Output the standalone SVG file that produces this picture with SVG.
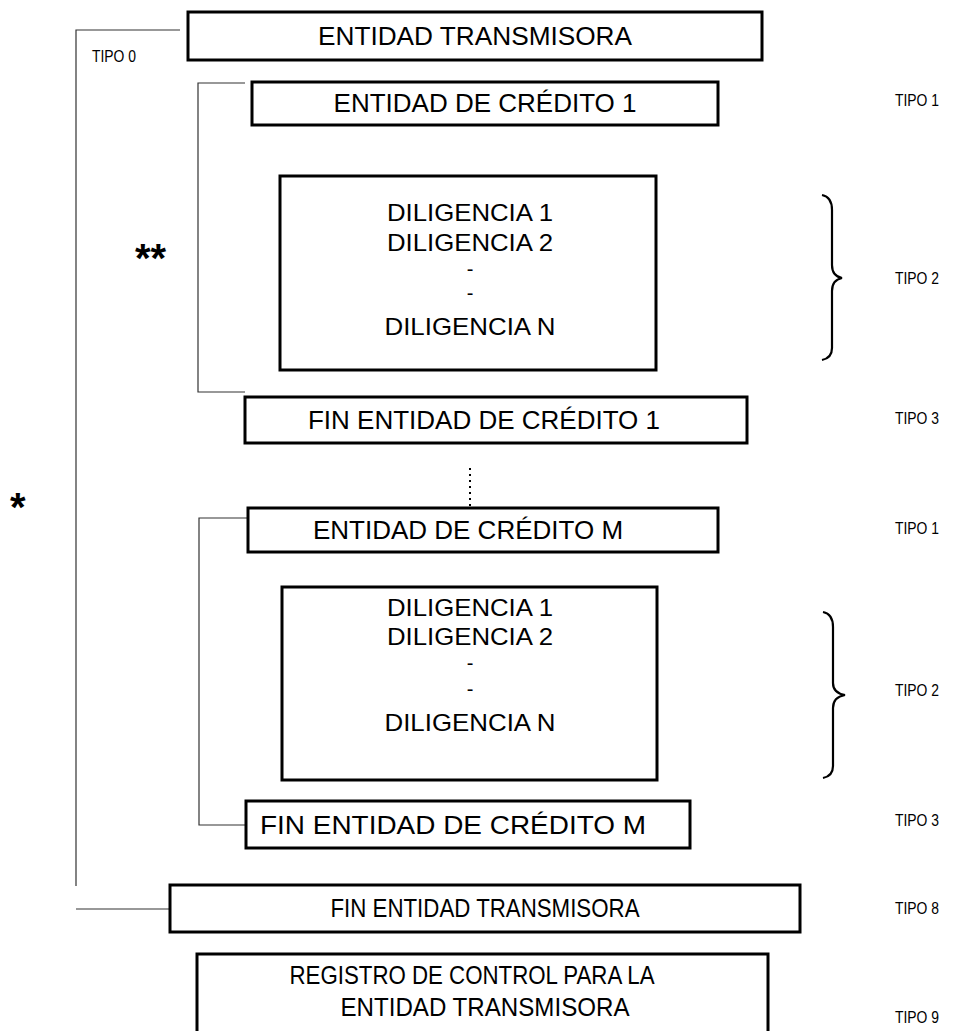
<svg xmlns="http://www.w3.org/2000/svg" width="969" height="1031" viewBox="0 0 969 1031">
<style>
.box{fill:#fff;stroke:#000;stroke-width:3}
.t{font-family:"Liberation Sans",Arial,sans-serif;font-size:26px;fill:#000;text-anchor:middle}
.d{font-family:"Liberation Sans",Arial,sans-serif;font-size:24px;fill:#000;text-anchor:middle}
.dash{font-family:"Liberation Sans",Arial,sans-serif;font-size:20px;fill:#000;text-anchor:middle}
.tipo{font-family:"Liberation Sans",Arial,sans-serif;font-size:16px;fill:#000}
.ln{fill:none;stroke:#333;stroke-width:1.2}
.br{fill:none;stroke:#000;stroke-width:2.2}
.star{font-family:"Liberation Sans",Arial,sans-serif;font-size:40px;font-weight:bold;fill:#000}
</style>
<rect width="969" height="1031" fill="#fff"/>
<g id="connectors">
<polyline class="ln" points="180,30 76,30 76,886"/>
<line class="ln" x1="76" y1="909" x2="170" y2="909"/>
<polyline class="ln" points="245,83 198,83 198,392 245,392"/>
<polyline class="ln" points="248,518 199,518 199,825 246,825"/>
<line x1="470" y1="468" x2="470" y2="506" stroke="#000" stroke-width="2" stroke-dasharray="2,4"/>
</g>
<g id="n_transmisora"><rect class="box" x="188" y="12" width="574" height="48"/><text class="t" x="475" y="45" textLength="314" lengthAdjust="spacingAndGlyphs">ENTIDAD TRANSMISORA</text></g>
<g id="tipo0"><text class="tipo" x="92" y="62" textLength="44" lengthAdjust="spacingAndGlyphs">TIPO 0</text></g>
<g id="n_credito1"><rect class="box" x="252" y="82" width="466" height="43"/><text class="t" x="485" y="112">ENTIDAD DE CRÉDITO 1</text></g>
<g id="n_dil1"><rect class="box" x="280" y="176" width="376" height="194"/>
<text class="d" x="470" y="221" textLength="166" lengthAdjust="spacingAndGlyphs">DILIGENCIA 1</text><text class="d" x="470" y="251" textLength="166" lengthAdjust="spacingAndGlyphs">DILIGENCIA 2</text><text class="dash" x="470" y="276">-</text><text class="dash" x="470" y="300">-</text><text class="d" x="470" y="335" textLength="171" lengthAdjust="spacingAndGlyphs">DILIGENCIA N</text></g>
<g id="n_fin1"><rect class="box" x="245" y="397" width="502" height="46"/><text class="t" x="484" y="429">FIN ENTIDAD DE CRÉDITO 1</text></g>
<g id="n_creditoM"><rect class="box" x="248" y="508" width="470" height="44"/><text class="t" x="468" y="539">ENTIDAD DE CRÉDITO M</text></g>
<g id="n_dil2"><rect class="box" x="282" y="587" width="375" height="193"/>
<text class="d" x="470" y="616" textLength="166" lengthAdjust="spacingAndGlyphs">DILIGENCIA 1</text><text class="d" x="470" y="645" textLength="166" lengthAdjust="spacingAndGlyphs">DILIGENCIA 2</text><text class="dash" x="470" y="670">-</text><text class="dash" x="470" y="696">-</text><text class="d" x="470" y="731" textLength="171" lengthAdjust="spacingAndGlyphs">DILIGENCIA N</text></g>
<g id="n_finM"><rect class="box" x="246" y="801" width="444" height="47"/><text class="t" x="453" y="834" textLength="386" lengthAdjust="spacingAndGlyphs">FIN ENTIDAD DE CRÉDITO M</text></g>
<g id="n_fintrans"><rect class="box" x="170" y="885" width="630" height="47"/><text class="t" x="485" y="917" textLength="309" lengthAdjust="spacingAndGlyphs">FIN ENTIDAD TRANSMISORA</text></g>
<g id="n_registro"><rect class="box" x="197" y="954" width="571" height="90"/><text class="t" x="472" y="984" textLength="365" lengthAdjust="spacingAndGlyphs">REGISTRO DE CONTROL PARA LA</text><text class="t" x="485" y="1016" textLength="289" lengthAdjust="spacingAndGlyphs">ENTIDAD TRANSMISORA</text></g>
<g id="braces">
<path class="br" d="M822,195 Q832,197 832,210 L832,265 Q832,276 842,278 Q832,280 832,291 L832,348 Q832,358 822,360"/>
<path class="br" d="M823,612 Q833,614 833,627 L833,683 Q833,693 845,695 Q833,697 833,708 L833,766 Q833,776 823,778"/>
</g>
<g id="labels">
<text class="tipo" x="895" y="106" textLength="44" lengthAdjust="spacingAndGlyphs">TIPO 1</text>
<text class="tipo" x="895" y="284" textLength="44" lengthAdjust="spacingAndGlyphs">TIPO 2</text>
<text class="tipo" x="895" y="424" textLength="44" lengthAdjust="spacingAndGlyphs">TIPO 3</text>
<text class="tipo" x="895" y="534" textLength="44" lengthAdjust="spacingAndGlyphs">TIPO 1</text>
<text class="tipo" x="895" y="696" textLength="44" lengthAdjust="spacingAndGlyphs">TIPO 2</text>
<text class="tipo" x="895" y="826" textLength="44" lengthAdjust="spacingAndGlyphs">TIPO 3</text>
<text class="tipo" x="895" y="914" textLength="44" lengthAdjust="spacingAndGlyphs">TIPO 8</text>
<text class="tipo" x="895" y="1023" textLength="44" lengthAdjust="spacingAndGlyphs">TIPO 9</text>
<text class="star" x="135" y="272">**</text>
<text class="star" x="10" y="521">*</text>
</g>
</svg>
